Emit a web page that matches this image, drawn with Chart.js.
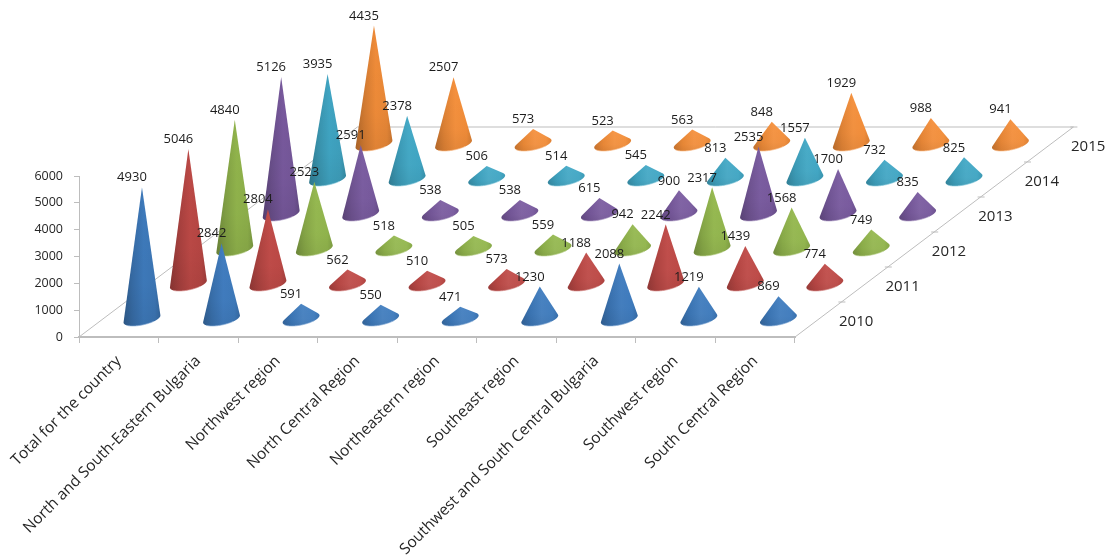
<!DOCTYPE html>
<html>
<head>
<meta charset="utf-8">
<title>Regions by year</title>
<script src="https://cdn.jsdelivr.net/npm/chart.js@4/dist/chart.umd.min.js"></script>
<style>
  html, body { margin: 0; padding: 0; background: #fff; }
  #wrap { width: 1110px; height: 555px; }
</style>
</head>
<body>
<div id="wrap"><canvas id="my_cone_chart"></canvas></div>
<script>
const regions = [
  "Total for the country",
  "North and South-Eastern Bulgaria",
  "Northwest region",
  "North Central Region",
  "Northeastern region",
  "Southeast region",
  "Southwest and South Central Bulgaria",
  "Southwest region",
  "South Central Region",
];
const years = ["2010", "2011", "2012", "2013", "2014", "2015"];

const values2010 = [4930, 2842, 591, 550, 471, 1230, 2088, 1219, 869];
const values2011 = [5046, 2804, 562, 510, 573, 1188, 2242, 1439, 774];
const values2012 = [4840, 2523, 518, 505, 559, 942, 2317, 1568, 749];
const values2013 = [5126, 2591, 538, 538, 615, 900, 2535, 1700, 835];
const values2014 = [3935, 2378, 506, 514, 545, 813, 1557, 732, 825];
const values2015 = [4435, 2507, 573, 523, 563, 848, 1929, 988, 941];

const yearValues = [values2010, values2011, values2012, values2013, values2014, values2015];
const yearColors = ["#3F7CBF", "#C04A47", "#94B84E", "#7A5BA0", "#41A8C6", "#F58F3A"];

// floor of the 3d box: one year row moves this far on screen
const depth = { x: 46.4, y: -35 };
const coneRadius = 0.2; // share of a floor cell
const labelFont = "'Open Sans', sans-serif";
const axisColor = "#bdbdbd";

function shade(hex, k) {
  const n = parseInt(hex.slice(1), 16);
  const parts = [(n >> 16) & 255, (n >> 8) & 255, n & 255].map((c) =>
    Math.round(k <= 1 ? c * k : c + (255 - c) * (k - 1))
  );
  return `rgb(${parts[0]}, ${parts[1]}, ${parts[2]})`;
}

function drawCone(ctx, el, row, color) {
  const cx = el.x + (row + 0.5) * depth.x;
  const cy = el.base + (row + 0.5) * depth.y;
  const apexX = el.x + (row + 0.5) * depth.x;
  const apexY = el.y + (row + 0.5) * depth.y;
  const a = el.width * coneRadius;
  const b = depth.x * coneRadius;
  const c = -depth.y * coneRadius;
  const at = (t) => ({
    x: cx + a * Math.cos(t) + b * Math.sin(t),
    y: cy - c * Math.sin(t),
  });

  // tangent points of the base ellipse seen from the tip
  const steps = 180;
  let left = 0;
  let right = 0;
  let minA = Infinity;
  let maxA = -Infinity;
  for (let i = 0; i < steps; i++) {
    const p = at((i / steps) * Math.PI * 2);
    const ang = Math.atan2(p.x - apexX, p.y - apexY);
    if (ang < minA) { minA = ang; left = i; }
    if (ang > maxA) { maxA = ang; right = i; }
  }
  const arc = [];
  for (let i = left; ; i = (i + 1) % steps) {
    arc.push(at((i / steps) * Math.PI * 2));
    if (i === right) break;
  }

  const height = cy - apexY;
  const lift = Math.max(0, 1 - height / 110) * 0.1; // flat cones catch more light
  const x0 = cx - Math.hypot(a, b);
  const x1 = cx + Math.hypot(a, b);
  const fill = ctx.createLinearGradient(x0, 0, x1, 0);
  fill.addColorStop(0, shade(color, 0.74 + lift));
  fill.addColorStop(0.25, shade(color, 0.87 + lift));
  fill.addColorStop(0.55, shade(color, 0.98 + lift));
  fill.addColorStop(0.85, shade(color, 0.95 + lift));
  fill.addColorStop(1, shade(color, 0.84 + lift));

  const outline = () => {
    ctx.beginPath();
    ctx.moveTo(apexX, apexY);
    for (const p of arc) ctx.lineTo(p.x, p.y);
    ctx.closePath();
  };
  outline();
  ctx.fillStyle = fill;
  ctx.fill();

  // slightly darker towards the floor
  const foot = ctx.createLinearGradient(0, apexY, 0, cy + c);
  foot.addColorStop(0, "rgba(0, 0, 0, 0)");
  foot.addColorStop(0.7, "rgba(0, 0, 0, 0.02)");
  foot.addColorStop(1, "rgba(0, 0, 0, 0.07)");
  outline();
  ctx.fillStyle = foot;
  ctx.fill();

  // light rim along the front of the base
  ctx.beginPath();
  arc.slice(Math.floor(arc.length * 0.2), Math.ceil(arc.length * 0.7)).forEach((p, i) =>
    i ? ctx.lineTo(p.x, p.y) : ctx.moveTo(p.x, p.y)
  );
  ctx.strokeStyle = shade(color, 1.4);
  ctx.lineWidth = 0.7;
  ctx.stroke();
}

// bar layout from the library, drawn as cones standing on the floor
class ConeController extends Chart.BarController {
  draw() {
    const ctx = this.chart.ctx;
    const meta = this.getMeta();
    const color = this.getDataset().coneColor;
    ctx.save();
    for (const el of meta.data) drawCone(ctx, el, this.index, color);
    ctx.restore();
  }
}
ConeController.id = "cone";
Chart.register(ConeController);

const floorPlugin = {
  id: "floor",
  beforeDatasetsDraw(chart) {
    const { ctx, chartArea } = chart;
    const { left, right, bottom } = chartArea;
    const dx = depth.x * years.length;
    const dy = depth.y * years.length;
    ctx.save();
    ctx.strokeStyle = axisColor;
    ctx.lineWidth = 1;
    ctx.beginPath();
    ctx.moveTo(left, bottom);
    ctx.lineTo(left + dx, bottom + dy);
    ctx.lineTo(right + dx, bottom + dy);
    ctx.lineTo(right, bottom);
    for (let i = 1; i < years.length; i++) {
      const x = right + depth.x * i;
      const y = bottom + depth.y * i;
      ctx.moveTo(x - 3, y);
      ctx.lineTo(x + 4, y);
    }
    ctx.moveTo(right + dx - 3, bottom + dy);
    ctx.lineTo(right + dx + 4, bottom + dy);
    ctx.stroke();

    ctx.fillStyle = "#262626";
    ctx.font = `15px ${labelFont}`;
    ctx.textAlign = "center";
    ctx.textBaseline = "middle";
    years.forEach((year, i) => {
      ctx.fillText(
        year,
        right + depth.x * (i + 0.5) + 38,
        bottom + depth.y * (i + 0.5) + 2
      );
    });
    ctx.restore();
  },
  afterDatasetsDraw(chart) {
    // value labels sit above every cone
    const { ctx } = chart;
    ctx.save();
    ctx.fillStyle = "#1c1c1c";
    ctx.font = `13px ${labelFont}`;
    ctx.textAlign = "center";
    ctx.textBaseline = "middle";
    chart.data.datasets.forEach((dataset, row) => {
      chart.getDatasetMeta(row).data.forEach((el, i) => {
        ctx.fillText(
          dataset.data[i],
          el.x + (row + 0.5) * depth.x - 10,
          el.y + (row + 0.5) * depth.y - 9.5
        );
      });
    });
    ctx.restore();
  },
};

const cone_chart = document.getElementById("my_cone_chart");
new Chart(cone_chart, {
  type: "cone",
  plugins: [floorPlugin],
  data: {
    labels: regions,
    datasets: years.map((year, i) => ({
      label: year,
      data: yearValues[i],
      coneColor: yearColors[i],
      grouped: false,
      clip: false,
      barPercentage: 1,
      categoryPercentage: 1,
    })),
  },
  options: {
    responsive: true,
    maintainAspectRatio: false,
    animation: false,
    layout: { padding: { left: 0, right: 315, top: 176, bottom: 0 } },
    plugins: {
      legend: { display: false },
      tooltip: { enabled: false },
    },
    scales: {
      x: {
        type: "category",
        offset: true,
        afterFit(scale) { scale.height = 218; },
        grid: {
          offset: true,
          drawOnChartArea: false,
          color: axisColor,
          tickLength: 6,
        },
        border: { color: axisColor, width: 2 },
        ticks: {
          autoSkip: false,
          minRotation: 45,
          maxRotation: 45,
          padding: 9,
          color: "#262626",
          font: { family: labelFont, size: 15.5 },
        },
      },
      y: {
        type: "linear",
        min: 0,
        max: 6000,
        afterFit(scale) { scale.width = 79; },
        grid: {
          drawOnChartArea: false,
          color: axisColor,
          tickLength: 5,
        },
        border: { color: axisColor, width: 1 },
        ticks: {
          stepSize: 1000,
          padding: 11,
          color: "#262626",
          font: { family: labelFont, size: 12.5 },
          callback: (value) => String(value),
        },
      },
    },
  },
});
</script>
</body>
</html>
